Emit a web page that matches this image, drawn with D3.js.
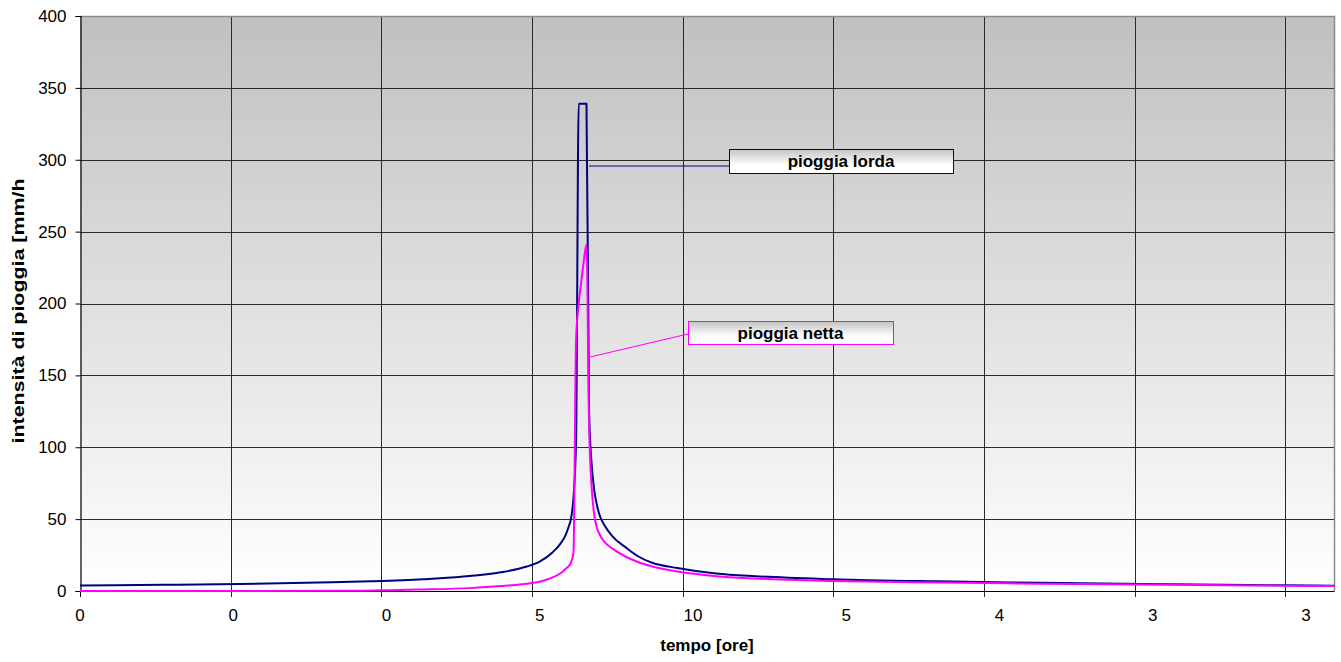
<!DOCTYPE html>
<html>
<head>
<meta charset="utf-8">
<script src="https://cdn.jsdelivr.net/npm/d3@7"></script>
<style>
  html, body { margin: 0; padding: 0; background: #ffffff; }
  svg { display: block; font-family: "Liberation Sans", Arial, sans-serif; }
</style>
</head>
<body>
<svg id="chart" width="1341" height="662"></svg>
<script>
// ---------------- DATA ----------------
// pioggia lorda [mm/h]: category index of each read sample, and value
const lordaIndex = [0, 32, 62, 92, 112, 132, 152, 162, 172, 177, 182, 185, 187, 188, 189, 190, 191, 192, 193, 194, 195, 196, 197, 198, 199, 200, 202, 205, 210, 215, 220, 230, 245, 260, 290, 330, 370, 410, 450, 483];
const lorda      = [3.8, 4.3, 4.9, 5.9, 6.8, 8.2, 10.7, 13, 17, 20.5, 27, 33, 39, 44, 50, 65, 105, 339, 339, 339, 339, 125, 88, 70, 60, 53, 45.5, 38, 30.5, 24, 19.8, 16, 12.2, 10.3, 8.2, 6.7, 5.7, 4.9, 4.2, 3.7];
// pioggia netta [mm/h]
const nettaIndex = [0, 60, 100, 116, 130, 150, 162, 174, 177, 181, 185, 187, 189, 190, 191, 192, 193, 194, 195, 196, 197, 198, 199, 200, 202, 205, 210, 215, 220, 230, 245, 260, 290, 330, 370, 410, 450, 483];
const netta      = [0, 0, 0.1, 0.5, 1.0, 2.0, 3.4, 5.6, 6.5, 8.8, 12.3, 15.5, 19.5, 27, 175, 200, 215, 230, 241, 115, 72, 53, 44, 39.5, 34, 29.5, 24, 20, 17.2, 13.5, 10.3, 8.7, 7.0, 5.9, 5.1, 4.5, 3.9, 3.5];

const nCategories = 484;
const tickEvery = 58;
const labelEvery = 59;
const xTickLabels = ["0", "0", "0", "5", "10", "5", "4", "3", "3"];
const yTicks = [0, 50, 100, 150, 200, 250, 300, 350, 400];

const xTitle = "tempo [ore]";
const yTitle = "intensità di pioggia [mm/h";
const seriesNames = ["pioggia lorda", "pioggia netta"];

// ---------------- LAYOUT ----------------
const plot = { left: 80, right: 1334.5, top: 16, bottom: 591 };
const fontSize = 17;

const svg = d3.select("#chart");
const defs = svg.append("defs");

const bgGrad = defs.append("linearGradient").attr("id", "bg").attr("x1", 0).attr("y1", 0).attr("x2", 0).attr("y2", 1);
bgGrad.append("stop").attr("offset", "0%").attr("stop-color", "#c0c0c0");
bgGrad.append("stop").attr("offset", "100%").attr("stop-color", "#ffffff");

const boxGrad = defs.append("linearGradient").attr("id", "boxbg").attr("x1", 0).attr("y1", 0).attr("x2", 0).attr("y2", 1);
boxGrad.append("stop").attr("offset", "0%").attr("stop-color", "#c4c4c4");
boxGrad.append("stop").attr("offset", "65%").attr("stop-color", "#ffffff");
boxGrad.append("stop").attr("offset", "100%").attr("stop-color", "#ffffff");

const x = d3.scaleLinear().domain([0, nCategories - 1]).range([plot.left, plot.right]);
const y = d3.scaleLinear().domain([0, 400]).range([plot.bottom, plot.top]);

// plot background
svg.append("rect")
  .attr("x", plot.left).attr("y", plot.top)
  .attr("width", plot.right - plot.left).attr("height", plot.bottom - plot.top)
  .attr("fill", "url(#bg)");

// grid
const tickIdx = d3.range(0, nCategories, tickEvery);
const labelIdx = d3.range(0, xTickLabels.length).map(i => i * labelEvery);

svg.append("g").selectAll("line").data(yTicks.slice(1)).join("line")
  .attr("x1", plot.left).attr("x2", plot.right)
  .attr("y1", d => Math.round(y(d)) + 0.5).attr("y2", d => Math.round(y(d)) + 0.5)
  .attr("stroke", "#2a2a2a").attr("stroke-width", 1);

svg.append("g").selectAll("line").data(tickIdx.slice(1)).join("line")
  .attr("x1", d => Math.round(x(d)) + 0.5).attr("x2", d => Math.round(x(d)) + 0.5)
  .attr("y1", plot.top).attr("y2", plot.bottom + 6)
  .attr("stroke", "#2a2a2a").attr("stroke-width", 1);

// plot border (top/right)
svg.append("path")
  .attr("d", `M${plot.left},${plot.top + 0.5}H${plot.right}V${plot.bottom}`)
  .attr("fill", "none").attr("stroke", "#8a8a8a").attr("stroke-width", 1.5);

// y axis
const yAxis = d3.axisLeft(y).tickValues(yTicks).tickSize(5).tickPadding(9);
const gy = svg.append("g").attr("transform", `translate(${plot.left + 0.5},0)`).call(yAxis);
gy.select(".domain").attr("stroke", "#000").attr("stroke-width", 1.2);
gy.selectAll(".tick line").attr("stroke", "#000");
gy.selectAll("text").attr("font-size", fontSize).attr("fill", "#000").attr("font-family", "Liberation Sans, Arial, sans-serif");

// x axis line + first tick
svg.append("line")
  .attr("x1", plot.left).attr("x2", plot.right)
  .attr("y1", plot.bottom + 0.5).attr("y2", plot.bottom + 0.5)
  .attr("stroke", "#000").attr("stroke-width", 1.2);
svg.append("line")
  .attr("x1", x(0) + 0.5).attr("x2", x(0) + 0.5)
  .attr("y1", plot.bottom).attr("y2", plot.bottom + 6)
  .attr("stroke", "#000");

// x labels
svg.append("g").selectAll("text").data(labelIdx).join("text")
  .attr("x", d => x(d)).attr("y", 621)
  .attr("text-anchor", "middle").attr("font-size", fontSize).attr("fill", "#000")
  .text((d, i) => xTickLabels[i]);

// titles
svg.append("text").attr("x", 707).attr("y", 651).attr("text-anchor", "middle")
  .attr("font-size", fontSize).attr("font-weight", "bold").text(xTitle);
svg.append("text").attr("transform", "translate(24,311) rotate(-90)").attr("text-anchor", "middle")
  .attr("font-size", fontSize).attr("font-weight", "bold")
  .attr("textLength", 265).attr("lengthAdjust", "spacingAndGlyphs")
  .text(yTitle);

// series
const line = d3.line().x(d => x(d[0])).y(d => y(d[1])).curve(d3.curveMonotoneX);
const lordaData = lordaIndex.map((d, i) => [d, lorda[i]]);
const nettaData = nettaIndex.map((d, i) => [d, netta[i]]);

svg.append("path").datum(lordaData).attr("d", line)
  .attr("fill", "none").attr("stroke", "#000080").attr("stroke-width", 2).attr("stroke-linejoin", "round");
svg.append("path").datum(nettaData).attr("d", line)
  .attr("fill", "none").attr("stroke", "#ff00ff").attr("stroke-width", 2).attr("stroke-linejoin", "round");

// callouts
const callouts = [
  { name: seriesNames[0], color: "#000080", ax: 589, ay: 166, bx: 729, by: 149, bw: 224, bh: 24, lx: 729, ly: 166 },
  { name: seriesNames[1], color: "#ff00ff", ax: 590, ay: 357, bx: 688, by: 321, bw: 205, bh: 23, lx: 688, ly: 334 }
];
callouts.forEach(c => {
  svg.append("line").attr("x1", c.ax).attr("y1", c.ay).attr("x2", c.lx).attr("y2", c.ly)
    .attr("stroke", c.color).attr("stroke-width", 1);
  svg.append("rect").attr("x", c.bx + 0.5).attr("y", c.by + 0.5).attr("width", c.bw).attr("height", c.bh)
    .attr("fill", "url(#boxbg)").attr("stroke", c.color).attr("stroke-width", 1);
  svg.append("text").attr("x", c.bx + c.bw / 2).attr("y", c.by + c.bh / 2 + 6)
    .attr("text-anchor", "middle").attr("font-size", fontSize).attr("font-weight", "bold").attr("fill", "#000")
    .text(c.name);
});
</script>
</body>
</html>
